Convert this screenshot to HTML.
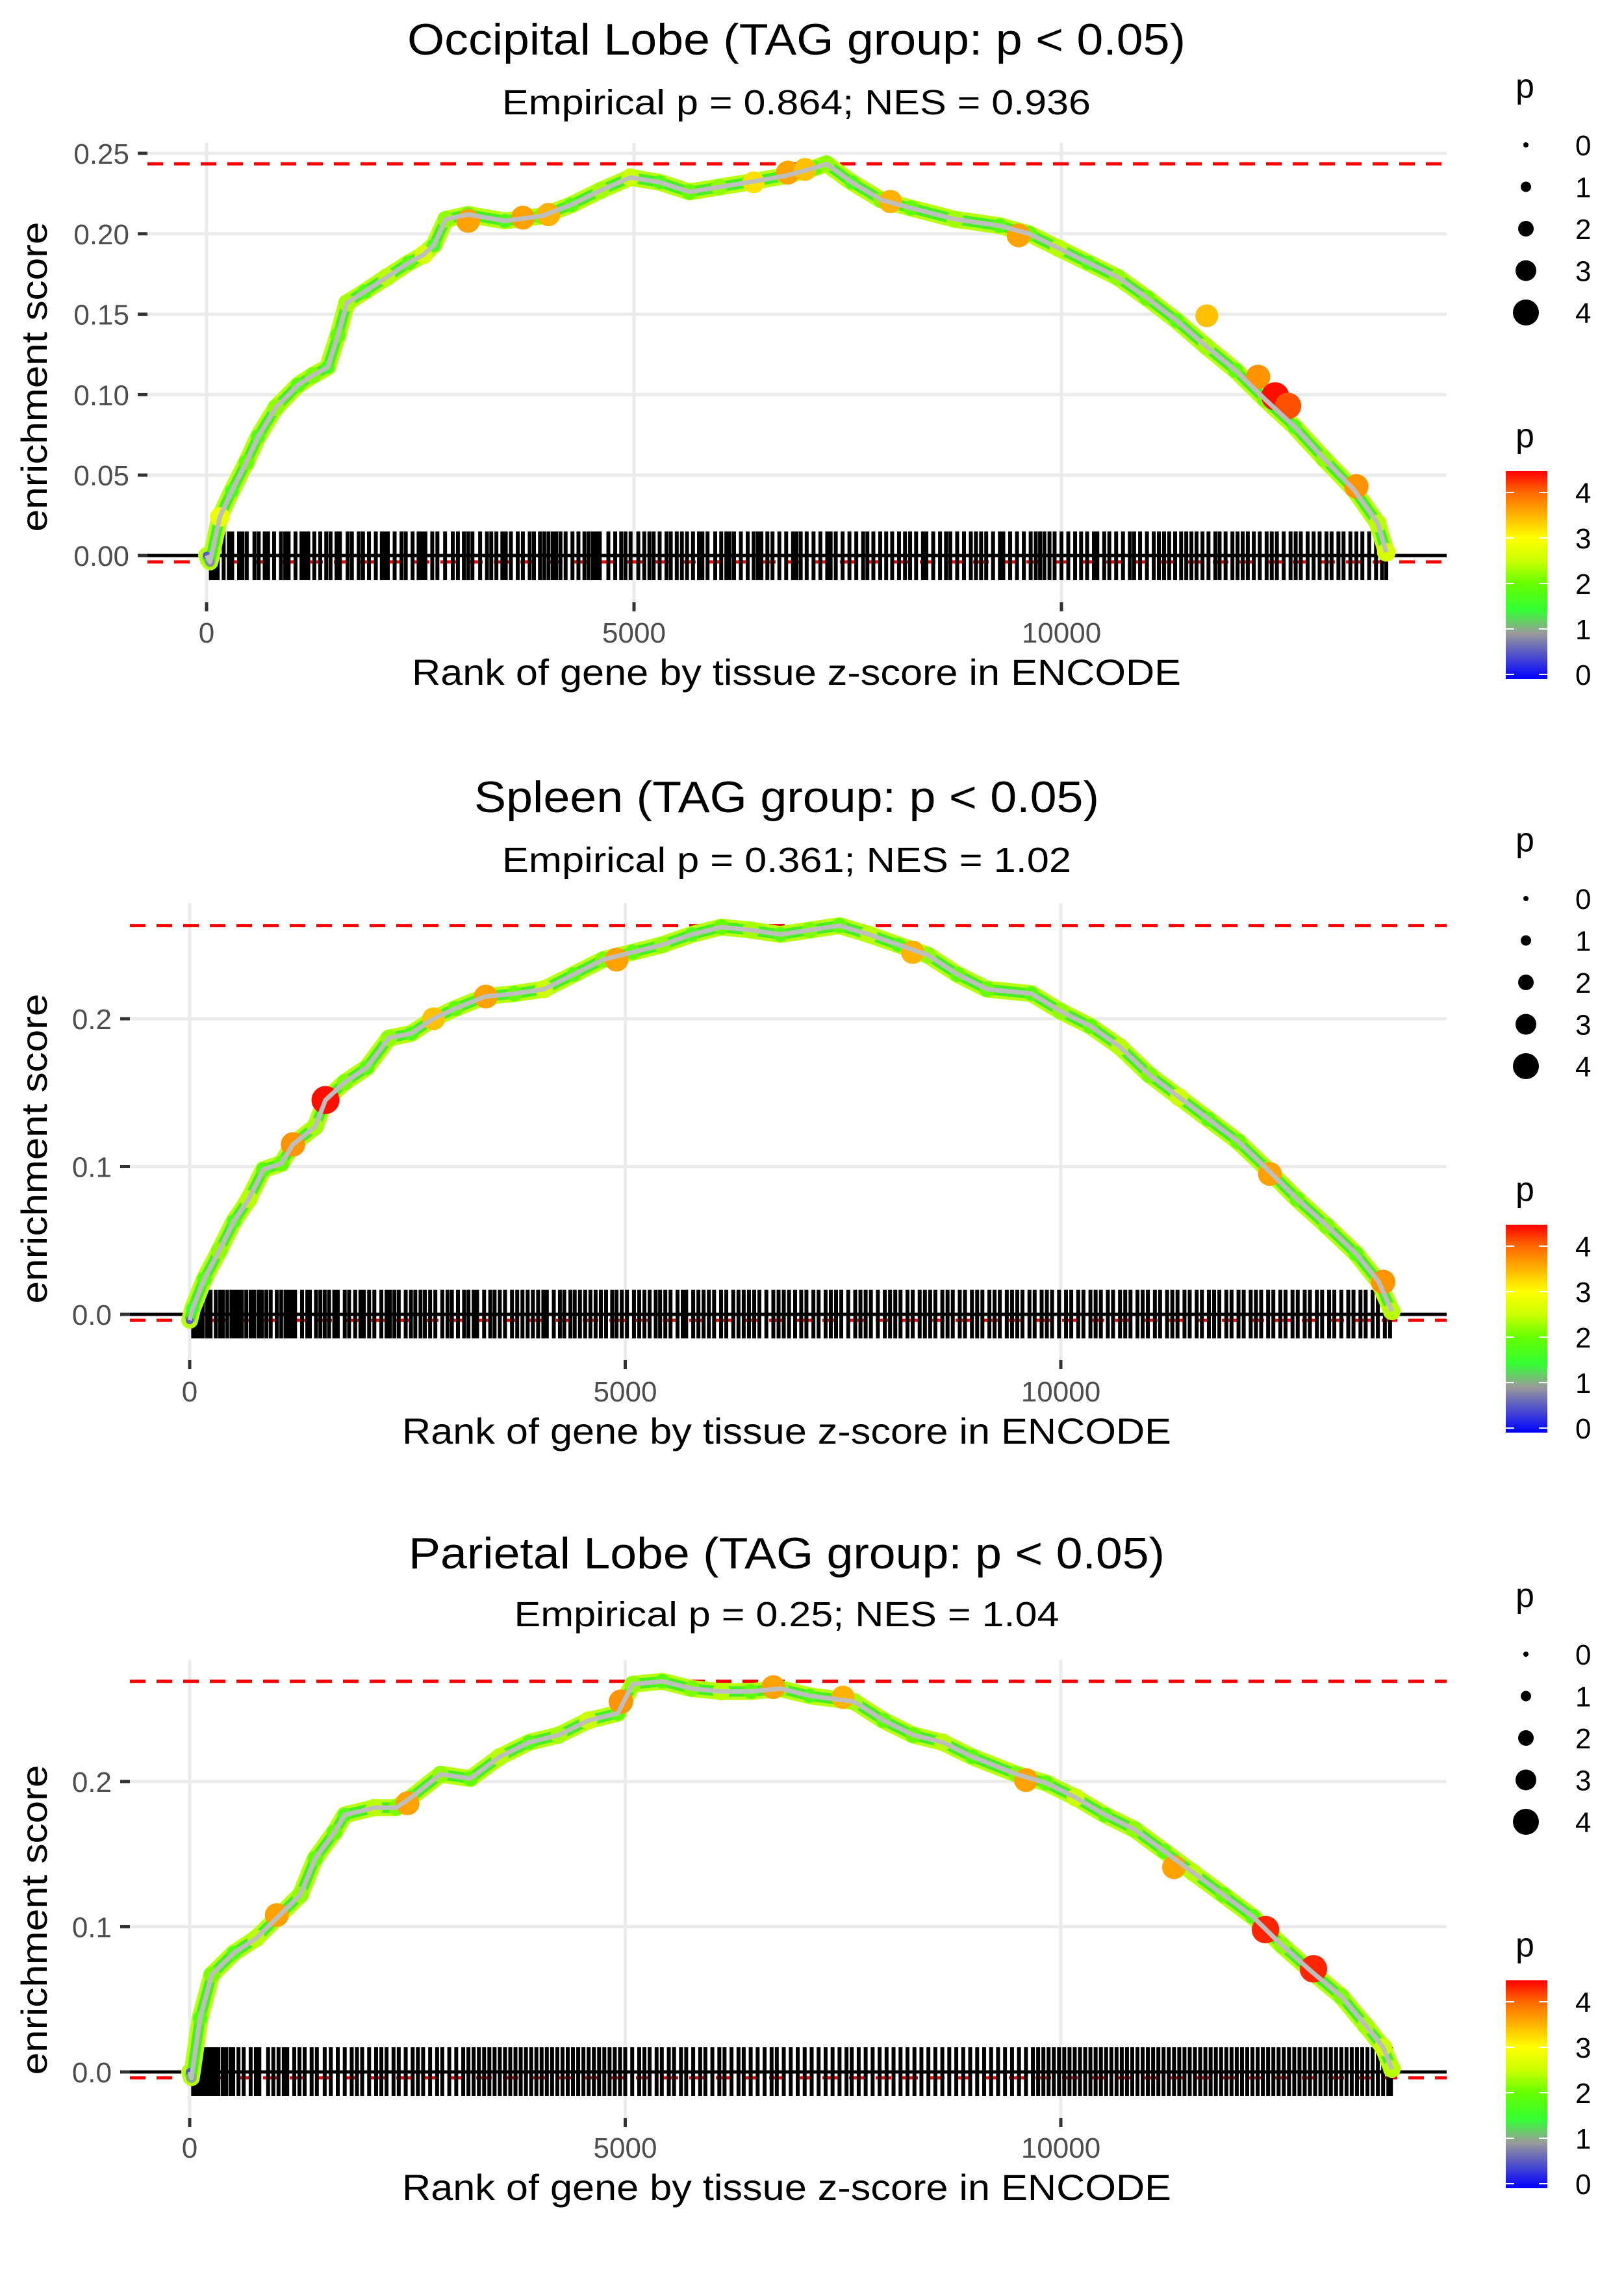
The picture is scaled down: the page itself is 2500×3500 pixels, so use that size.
<!DOCTYPE html>
<html><head><meta charset="utf-8"><title>Enrichment plots</title>
<style>html,body{margin:0;padding:0;background:#fff}svg{display:block}text{font-family:"Liberation Sans",sans-serif}</style>
</head><body>
<svg id="chart" width="2500" height="3500" viewBox="0 0 2500 3500" xmlns="http://www.w3.org/2000/svg">
<defs>
<linearGradient id="pgrad" x1="0" y1="1" x2="0" y2="0">
<stop offset="0" stop-color="#0000ff"/><stop offset="0.22" stop-color="#9a9a9a"/><stop offset="0.33" stop-color="#33ff33"/><stop offset="0.46" stop-color="#66ff00"/><stop offset="0.57" stop-color="#ccff00"/><stop offset="0.68" stop-color="#ffff00"/><stop offset="0.8" stop-color="#ffaa00"/><stop offset="0.9" stop-color="#ff6600"/><stop offset="1" stop-color="#ff0000"/>
</linearGradient>
</defs>
</svg>
<script>
// ---------- data: Occipital Lobe ----------
const occRank=[0,40,155,294,466,604,812,1071,1244,1416,1537,1641,1848,2107,2366,2539,2660,2798,3057,3489,3921,4266,4611,4957,5302,5648,5993,6339,6770,7116,7250,7547,7893,8238,8756,9275,9620,9965,10311,10656,11002,11347,11693,12038,12383,12729,13074,13420,13700,13800];
const occES=[0,-0.004,0.024,0.04,0.058,0.074,0.092,0.106,0.112,0.117,0.137,0.157,0.164,0.173,0.182,0.187,0.193,0.209,0.212,0.208,0.211,0.218,0.227,0.235,0.232,0.226,0.229,0.232,0.236,0.241,0.2435,0.232,0.221,0.216,0.209,0.205,0.200,0.191,0.182,0.173,0.160,0.146,0.130,0.115,0.097,0.080,0.060,0.041,0.020,0.002];
const occP=[0.5,0.8,2.8,1.6,2.0,1.7,2.2,1.8,2.1,1.6,1.9,2.3,1.7,2.4,1.8,2.6,1.6,2.2,1.9,1.7,2.1,1.8,2.3,2.5,1.7,2.0,2.2,1.8,2.4,1.9,2.2,1.7,2.1,1.9,2.3,1.8,2.0,2.4,1.7,2.2,2.0,1.8,2.3,1.9,2.1,1.7,2.2,1.9,2.4,2.6];
const occHiRank=[3060,3700,4000,6400,6800,7000,8000,9500,11700,12300,12500,12650,13450];
const occHiES=[0.208,0.210,0.212,0.232,0.238,0.240,0.220,0.199,0.149,0.111,0.099,0.093,0.043];
const occHiP=[3.6,3.6,3.5,3.2,3.6,3.4,3.5,3.6,3.4,3.7,4.4,4.1,3.7];
const occRug=[50,90,130,200,260,300,380,420,470,560,610,680,720,790,870,920,960,1040,1110,1150,1190,1260,1330,1400,1450,1520,1560,1650,1700,1780,1830,1900,1980,2050,2090,2120,2200,2280,2330,2410,2480,2520,2560,2640,2700,2790,2880,2940,3010,3060,3110,3200,3280,3330,3390,3460,3500,3560,3640,3700,3780,3830,3900,3950,4000,4050,4090,4140,4200,4280,4350,4420,4470,4520,4560,4600,4700,4780,4850,4900,4960,5050,5120,5180,5230,5300,5380,5430,5500,5560,5620,5690,5760,5800,5860,5950,6020,6080,6120,6170,6250,6330,6400,6450,6490,6560,6620,6700,6780,6860,6900,6950,7020,7100,7180,7260,7300,7360,7440,7520,7600,7680,7730,7800,7880,7950,8020,8100,8170,8230,8300,8380,8420,8500,8580,8650,8700,8780,8860,8940,9000,9060,9120,9200,9280,9320,9400,9480,9560,9640,9700,9750,9800,9860,9920,10000,10080,10160,10230,10300,10380,10420,10500,10560,10640,10720,10800,10850,10920,11000,11080,11140,11200,11260,11330,11400,11460,11520,11580,11650,11720,11800,11850,11920,12000,12060,12120,12180,12250,12320,12400,12460,12520,12600,12680,12740,12800,12880,12950,13020,13100,13160,13240,13300,13380,13450,13520,13600,13680,13750,13800];
const occYTicks=[0,0.05,0.10,0.15,0.20,0.25];
const occYLabels=["0.00","0.05","0.10","0.15","0.20","0.25"];

// ---------- data: Spleen ----------
const splRank=[0,34,169,339,508,678,847,1051,1186,1441,1559,1780,2034,2288,2542,2797,3051,3390,3729,4068,4407,4746,5085,5424,5763,6102,6441,6780,7119,7458,7797,8136,8475,8814,9153,9661,10000,10339,10678,11017,11356,11695,12034,12373,12712,13051,13390,13650,13800];
const splES=[-0.004,0.004,0.024,0.043,0.063,0.078,0.098,0.102,0.115,0.127,0.145,0.157,0.167,0.187,0.19,0.2,0.207,0.215,0.217,0.22,0.23,0.24,0.245,0.25,0.257,0.262,0.26,0.257,0.26,0.263,0.257,0.25,0.243,0.23,0.22,0.217,0.205,0.195,0.181,0.162,0.147,0.132,0.117,0.098,0.078,0.06,0.041,0.022,0.002];
const splP=[0.5,1.4,1.8,2.2,1.7,2.4,1.8,2.0,1.7,2.3,1.9,2.1,1.8,2.2,1.7,2.4,1.9,1.8,2.0,2.5,1.8,2.1,1.9,2.2,1.7,2.0,2.3,1.8,2.1,1.9,2.4,1.7,2.2,1.9,2.0,1.8,2.2,1.9,2.4,2.1,2.5,1.8,2.0,2.2,1.9,2.1,1.8,2.3,2.4];
const splHi=[1186,1559,2800,3400,4900,8300,12400,13700];
const splHiES=[0.115,0.145,0.200,0.215,0.240,0.245,0.095,0.022];
const splHiP=[3.7,4.4,3.4,3.6,3.6,3.5,3.6,3.7];
const splRug=[40,70,110,150,200,240,300,350,380,430,480,520,560,600,650,700,740,790,830,880,930,1000,1050,1100,1130,1170,1210,1290,1350,1380,1450,1500,1550,1600,1660,1700,1780,1830,1900,1960,2000,2060,2120,2200,2260,2300,2350,2400,2480,2540,2590,2650,2700,2760,2820,2900,2960,3010,3080,3150,3200,3260,3300,3380,3450,3500,3560,3620,3700,3760,3820,3880,3940,4000,4060,4100,4180,4250,4300,4370,4420,4480,4540,4600,4660,4720,4780,4850,4900,4960,5020,5100,5160,5220,5280,5350,5400,5460,5520,5600,5660,5700,5780,5840,5900,5960,6020,6100,6160,6240,6300,6360,6420,6480,6540,6620,6700,6760,6820,6880,6950,7020,7080,7160,7220,7300,7360,7420,7480,7560,7640,7700,7760,7820,7900,7980,8040,8100,8160,8240,8300,8380,8440,8500,8560,8640,8700,8760,8840,8900,8980,9040,9100,9180,9240,9300,9380,9440,9500,9560,9640,9700,9780,9840,9900,9980,10060,10120,10200,10260,10340,10400,10460,10540,10600,10680,10740,10800,10880,10940,11000,11080,11140,11220,11280,11340,11420,11480,11560,11620,11700,11760,11820,11900,11960,12040,12100,12180,12240,12300,12380,12440,12520,12580,12660,12720,12800,12860,12940,13000,13080,13140,13220,13300,13360,13440,13500,13580,13640,13720,13780];
const splYTicks=[0,0.1,0.2];
const splYLabels=["0.0","0.1","0.2"];

// ---------- data: Parietal Lobe ----------
const parRank=[0,20,119,254,508,763,1017,1271,1441,1661,1780,2119,2373,2542,2881,3220,3559,3898,4237,4576,4915,5085,5424,5763,6102,6441,6780,7119,7627,7966,8305,8644,8983,9492,9831,10169,10508,10847,11186,11525,11864,12203,12542,12881,13220,13500,13700,13800];
const parES=[0,-0.004,0.037,0.067,0.082,0.092,0.107,0.122,0.147,0.165,0.177,0.182,0.182,0.189,0.205,0.202,0.217,0.227,0.232,0.242,0.247,0.267,0.269,0.264,0.262,0.262,0.264,0.259,0.255,0.242,0.232,0.227,0.217,0.205,0.199,0.189,0.177,0.167,0.152,0.137,0.122,0.107,0.087,0.069,0.052,0.032,0.017,0.002];
const parP=[0.5,1.0,1.8,2.1,1.7,2.4,1.8,2.2,1.9,2.0,1.7,2.4,2.1,1.8,2.2,1.9,2.4,1.8,2.3,2.5,1.9,2.2,1.8,2.1,2.4,1.9,2.2,1.7,2.3,1.9,2.0,2.4,1.8,2.1,1.9,2.5,1.8,2.2,1.9,2.4,2.0,1.8,2.2,1.9,2.1,2.3,2.5,2.4];
const parHi=[1000,2500,4950,6700,7500,9600,11300,12350,12900];
const parHiES=[0.108,0.185,0.255,0.265,0.258,0.201,0.141,0.098,0.071];
const parHiP=[3.6,3.6,3.7,3.6,3.5,3.6,3.6,4.3,4.3];
const parRug=[40,70,100,130,160,200,230,260,300,330,380,420,470,500,560,620,700,760,800,900,960,1020,1080,1120,1200,1260,1320,1400,1460,1550,1620,1700,1780,1860,1920,1980,2060,2140,2200,2260,2340,2400,2480,2560,2620,2680,2760,2840,2900,2980,3060,3140,3200,3260,3320,3380,3440,3500,3560,3620,3680,3740,3800,3860,3920,3980,4040,4100,4160,4220,4280,4340,4400,4460,4520,4580,4640,4700,4760,4820,4880,4940,5000,5080,5160,5220,5280,5360,5420,5500,5560,5640,5700,5780,5860,5920,6000,6080,6140,6220,6300,6360,6440,6520,6600,6680,6740,6820,6900,6980,7060,7140,7220,7300,7380,7460,7540,7600,7680,7760,7840,7920,8000,8080,8160,8240,8320,8400,8480,8560,8640,8720,8800,8880,8960,9040,9120,9200,9280,9360,9440,9520,9600,9680,9740,9800,9860,9920,9980,10040,10100,10160,10220,10280,10340,10400,10460,10520,10580,10640,10700,10760,10820,10880,10940,11000,11060,11120,11180,11240,11300,11360,11420,11480,11540,11600,11660,11720,11780,11840,11900,11960,12020,12080,12140,12200,12260,12320,12380,12440,12500,12560,12620,12680,12740,12800,12860,12920,12980,13040,13100,13160,13220,13280,13340,13400,13460,13520,13580,13640,13700,13760,13790];
const parYTicks=[0,0.1,0.2];
const parYLabels=["0.0","0.1","0.2"];

const xTicks=[0,5000,10000];
const xLabels=["0","5000","10000"];
const sizeLegendVals=[0,1,2,3,4];
const colorLegendVals=[0,1,2,3,4];

// ---------- layout ----------
const NS="http://www.w3.org/2000/svg";
const svg=document.getElementById('chart');
function mk(tag,attrs,parent){const e=document.createElementNS(NS,tag);for(const k in attrs)e.setAttribute(k,attrs[k]);(parent||svg).appendChild(e);return e;}

const colStops=[[-0.1,[0,0,255]],[0.9,[154,154,154]],[1.4,[51,255,51]],[2.0,[102,255,0]],[2.5,[204,255,0]],[3.0,[255,255,0]],[3.55,[255,170,0]],[4.0,[255,102,0]],[4.47,[255,0,0]]];
function pColor(p){for(let i=1;i<colStops.length;i++){if(p<=colStops[i][0]){const a=colStops[i-1],b=colStops[i];const t=(p-a[0])/(b[0]-a[0]);const c=a[1].map((v,j)=>Math.round(v+(b[1][j]-v)*t));return 'rgb('+c.join(',')+')';}}return 'rgb(255,0,0)';}
function pRadius(p){return 4+4*p;}

const panels=[
 {key:'occipital',title:'Occipital Lobe (TAG group: p < 0.05)',tw:1198,sub:'Empirical p = 0.864; NES = 0.936',sw:906,cx:1226,
  left:227,right:2227,top:220,bottom:927,x0:318,x1:1634,y0:855,ypu:2476,rugTop:818,rugBot:893,
  titleY:84,subY:176,tickY:989,xtitleY:1054,ytitleY:580,off:0,
  rank:occRank,es:occES,p:occP,hr:occHiRank,he:occHiES,hp:occHiP,rug:occRug,yt:occYTicks,yl:occYLabels,minES:-0.004},
 {key:'spleen',title:'Spleen (TAG group: p < 0.05)',tw:962,sub:'Empirical p = 0.361; NES = 1.02',sw:876,cx:1211,
  left:200,right:2227,top:1390,bottom:2093,x0:292,x1:1633,y0:2023,ypu:2275,rugTop:1985,rugBot:2060,
  titleY:1250,subY:1342,tickY:2157,xtitleY:2222,ytitleY:1768,off:1160,
  rank:splRank,es:splES,p:splP,hr:splHi,he:splHiES,hp:splHiP,rug:splRug,yt:splYTicks,yl:splYLabels,minES:-0.004},
 {key:'parietal',title:'Parietal Lobe (TAG group: p < 0.05)',tw:1164,sub:'Empirical p = 0.25; NES = 1.04',sw:839,cx:1211,
  left:200,right:2227,top:2555,bottom:3260,x0:292,x1:1633,y0:3189,ypu:2235,rugTop:3151,rugBot:3226,
  titleY:2414,subY:2503,tickY:3321,xtitleY:3386,ytitleY:2955,off:2323,
  rank:parRank,es:parES,p:parP,hr:parHi,he:parHiES,hp:parHiP,rug:parRug,yt:parYTicks,yl:parYLabels,minES:-0.004}
];

panels.forEach(P=>{
 const g=mk('g',{});
 
 
 const X=r=>P.x0+(P.x1-P.x0)*r/10000;
 const Y=v=>P.y0-v*P.ypu;
 const t=mk('text',{x:P.cx,y:P.titleY,'text-anchor':'middle','font-size':68,fill:'#000',textLength:P.tw,lengthAdjust:'spacingAndGlyphs'},g);t.textContent=P.title;
 
 
 const s=mk('text',{x:P.cx,y:P.subY,'text-anchor':'middle','font-size':54,fill:'#000',textLength:P.sw,lengthAdjust:'spacingAndGlyphs'},g);s.textContent=P.sub;
 
 
 P.yt.forEach((v,i)=>{
  const gl=mk('line',{x1:P.left,x2:P.right,y1:Y(v),y2:Y(v),stroke:'#ebebeb','stroke-width':5},g);
  
  
  const tk=mk('line',{x1:P.left-15,x2:P.left,y1:Y(v),y2:Y(v),stroke:'#333','stroke-width':5},g);
  
  
  const lb=mk('text',{x:P.left-28,y:Y(v)+16,'text-anchor':'end','font-size':44,fill:'#4d4d4d'},g);lb.textContent=P.yl[i];
  
  
 });
 xTicks.forEach((v,i)=>{
  const gl=mk('line',{x1:X(v),x2:X(v),y1:P.top,y2:P.bottom,stroke:'#ebebeb','stroke-width':5},g);
  
  
  const tk=mk('line',{x1:X(v),x2:X(v),y1:P.bottom,y2:P.bottom+14,stroke:'#333','stroke-width':5},g);
  
  
  const lb=mk('text',{x:X(v),y:P.tickY,'text-anchor':'middle','font-size':44,fill:'#4d4d4d'},g);lb.textContent=xLabels[i];
  
  
 });
 const mx=Math.max.apply(null,P.es);
 [mx,P.minES].forEach((v,i)=>{
  const d=mk('line',{x1:P.left,x2:P.right,y1:Y(v),y2:Y(v),stroke:'#ff0000','stroke-width':5,'stroke-dasharray':'24 17'},g);
  
  
 });
 const rg=mk('g',{},g);
 
 
 P.rug.forEach(r=>{
  const l=mk('line',{x1:X(r),x2:X(r),y1:P.rugTop,y2:P.rugBot,stroke:'#000','stroke-width':6},rg);
  
  
 });
 const z=mk('line',{x1:P.left,x2:P.right,y1:Y(0),y2:Y(0),stroke:'#000','stroke-width':5},g);
 
 
 const pts=P.rank.map((r,i)=>X(r)+','+Y(P.es[i])).join(' ');
 const band=mk('polyline',{points:pts,fill:'none',stroke:'#b8ff10','stroke-width':26,'stroke-linejoin':'round','stroke-linecap':'round'},g);
 
 
 const band2=mk('polyline',{points:pts,fill:'none',stroke:'#44f022','stroke-width':16,'stroke-linejoin':'round'},g);
 
 
 P.rank.forEach((r,i)=>{
  const c=mk('circle',{cx:X(r),cy:Y(P.es[i]),r:pRadius(P.p[i]),fill:pColor(P.p[i])},g);
  
  
 });
 P.hr.forEach((r,i)=>{
  const c=mk('circle',{cx:X(r),cy:Y(P.he[i]),r:pRadius(P.hp[i]),fill:pColor(P.hp[i])},g);
  
  
 });
 const ln=mk('polyline',{points:pts,fill:'none',stroke:'#bebebe','stroke-width':7,'stroke-linejoin':'round'},g);
 
 
 const xt=mk('text',{x:P.cx,y:P.xtitleY,'text-anchor':'middle','font-size':56,fill:'#000',textLength:1184,lengthAdjust:'spacingAndGlyphs'},g);xt.textContent='Rank of gene by tissue z-score in ENCODE';
 
 
 const yt=mk('text',{x:0,y:0,'text-anchor':'middle','font-size':56,fill:'#000',textLength:477,lengthAdjust:'spacingAndGlyphs',transform:'translate(72,'+P.ytitleY+') rotate(-90)'},g);yt.textContent='enrichment score';
 
 
 const o=P.off;
 const lg=mk('g',{},g);
 
 
 const lt=mk('text',{x:2333,y:150+o,'font-size':52,fill:'#000'},lg);lt.textContent='p';
 
 
 sizeLegendVals.forEach((v,i)=>{
  const cy=223+64.5*i+o;
  const c=mk('circle',{cx:2349,cy:cy,r:pRadius(v),fill:'#000'},lg);
  
  
  const tx=mk('text',{x:2425,y:cy+16,'font-size':44,fill:'#000'},lg);tx.textContent=String(v);
  
  
 });
 const cg=mk('g',{},g);
 
 
 const ct=mk('text',{x:2333,y:688+o,'font-size':52,fill:'#000'},cg);ct.textContent='p';
 
 
 const bar=mk('rect',{x:2318,y:725+o,width:64,height:320,fill:'url(#pgrad)'},cg);
 
 
 const CY=v=>1038+o-(1038-758)*v/4;
 colorLegendVals.forEach(v=>{
  [[2318,2331],[2369,2382]].forEach(xx=>{
   const tk=mk('line',{x1:xx[0],x2:xx[1],y1:CY(v),y2:CY(v),stroke:'#fff','stroke-width':2},cg);
   
   
  });
  const tx=mk('text',{x:2425,y:CY(v)+16,'font-size':44,fill:'#000'},cg);tx.textContent=String(v);
  
  
 });
});
</script>
</body></html>
